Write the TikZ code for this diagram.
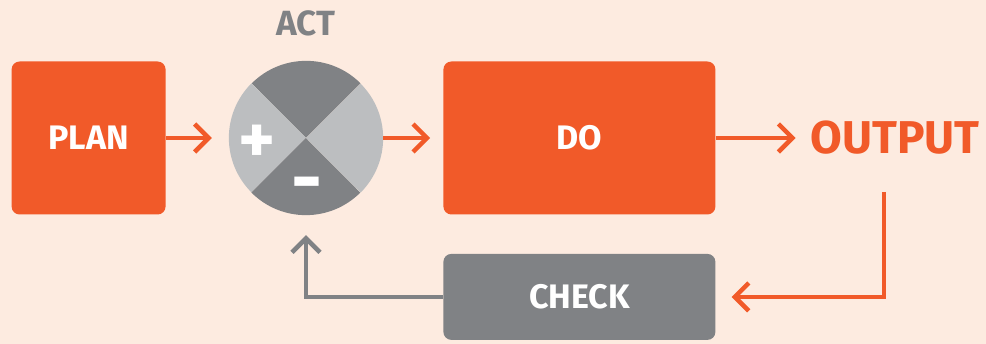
\documentclass[tikz,border=0pt]{standalone}
\usepackage{fontspec}
\setmainfont{Fira Sans}
\definecolor{pdcaorange}{RGB}{241,90,41}
\definecolor{pdcabg}{RGB}{253,235,224}
\definecolor{pdcadark}{RGB}{128,130,133}
\definecolor{pdcalight}{RGB}{188,190,192}
\usetikzlibrary{arrows.meta,positioning}

\begin{document}
\begin{tikzpicture}[x=1pt,y=1pt,
    box/.style={rounded corners=8pt,inner sep=0pt,text=white,
                font=\fontsize{34}{36}\selectfont\bfseries},
    sign/.style={inner sep=0pt,text=white,font=\fontsize{#1}{#1}\selectfont\bfseries},
    flow/.style={-{Straight Barb[length=14pt,width=28pt]},line width=4.5pt,pdcaorange},
    back/.style={-{Straight Barb[length=14pt,width=28pt]},line width=4.5pt,pdcadark}]
      \fill[pdcabg] (0,0) rectangle (986,344);
      \node[circle,minimum size=154pt,inner sep=0pt] (act) at (306,206) {};
      \fill[pdcadark] (act.center) -- (act.45) arc[start angle=45,end angle=135,radius=77pt] -- cycle;
      \fill[pdcalight] (act.center) -- (act.135) arc[start angle=135,end angle=225,radius=77pt] -- cycle;
      \fill[pdcadark] (act.center) -- (act.225) arc[start angle=225,end angle=315,radius=77pt] -- cycle;
      \fill[pdcalight] (act.center) -- (act.315) arc[start angle=-45,end angle=45,radius=77pt] -- cycle;
      \node[sign=70] (plus) at (257.5,200) {+};
      \node[sign=76] (minus) at (306.5,153) {-};
      \node[above=24pt of act,inner sep=0pt,text=pdcadark,
            font=\fontsize{35}{36}\selectfont\bfseries] (actlabel) {ACT};
      \node[left=63pt of act,box,fill=pdcaorange,minimum width=154pt,minimum height=153pt] (plan) {PLAN};
      \node[right=60pt of act,box,fill=pdcaorange,minimum width=272pt,minimum height=153pt] (do) {DO};
      \node[below=39pt of do,box,fill=pdcadark,minimum width=272pt,minimum height=86pt] (check) {CHECK};
      \node[right=95pt of do,inner sep=0pt,text=pdcaorange,
            font=\fontsize{46}{46}\selectfont\bfseries] (output) {OUTPUT};
      \coordinate (fb) at (884,152);
      \draw[flow,shorten >=17pt] (plan) -- (act);
      \draw[flow,shorten >=13pt] (act) -- (do);
      \draw[flow,shorten >=15pt] (do) -- (output);
      \draw[flow,shorten >=16pt] (fb) |- (check);
      \draw[back,shorten >=20pt] (check.west) -| (act.south);
    \end{tikzpicture}
\end{document}
